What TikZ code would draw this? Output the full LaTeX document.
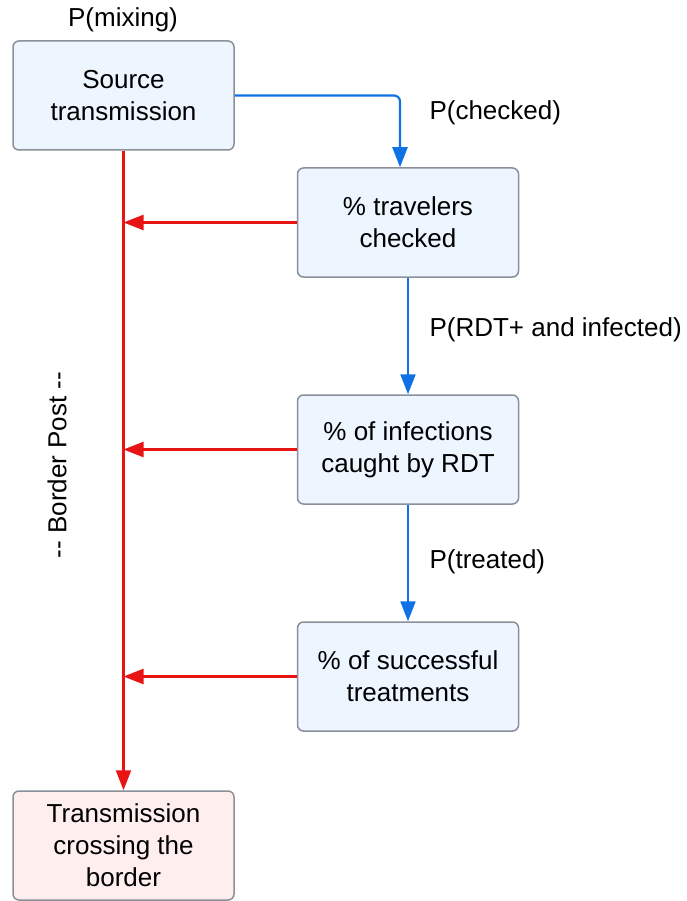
\documentclass[tikz,border=0pt]{standalone}
\usepackage{fontspec}
\setmainfont{Liberation Sans}
\usetikzlibrary{arrows.meta}
\definecolor{flowBlue}{HTML}{1071E5}
\definecolor{flowRed}{HTML}{E81313}
\definecolor{boxFill}{HTML}{EDF5FF}
\definecolor{endFill}{HTML}{FFEEEE}
\definecolor{boxLine}{HTML}{8A9099}

\begin{document}
\begin{tikzpicture}[x=1pt, y=-1pt,
  stagebox/.style={draw=boxLine, line width=1.5pt, rounded corners=6pt, fill=boxFill,
    minimum width=221pt, minimum height=109pt, align=center,
    font=\fontsize{26}{32}\selectfont},
  probtext/.style={font=\fontsize{26}{30}\selectfont, anchor=west},
  passflow/.style={flowBlue, line width=2.2pt, -{Triangle[length=20pt, width=15pt]}},
  leakflow/.style={flowRed, line width=2.2pt, -{Triangle[length=20pt, width=15pt]}}]
  % Frame
  \useasboundingbox (0,0) rectangle (687,901);

  % Stages
  \node[stagebox] (src) at (123.5,95.5) {Source\\transmission};
  \node[stagebox] (chk) at (408,222.5) {\% travelers\\checked};
  \node[stagebox] (rdt) at (408,449.5) {\% of infections\\caught by RDT};
  \node[stagebox] (trt) at (408,676.5) {\% of successful\\treatments};
  \node[stagebox, fill=endFill] (cross) at (123.5,845.5) {Transmission\\crossing the\\border};

  % Probabilities
  \node[font=\fontsize{26}{30}\selectfont] (pmix) at (123,20) {P(mixing)};
  \node[probtext] (pchk) at (426,113) {P(checked)};
  \node[probtext] (prdt) at (426,330) {P(RDT+ and infected)};
  \node[probtext] (ptrt) at (426,562) {P(treated)};
  \node[font=\fontsize{26}{30}\selectfont, rotate=90] (post) at (57,465) {-{}- Border Post -{}-};

  % Checked path
  \draw[passflow, rounded corners=6pt] (src.east) -| ([xshift=-8pt]chk.north);
  \draw[passflow] (chk.south) -- (rdt.north);
  \draw[passflow] (rdt.south) -- (trt.north);

  % Leaks across the border
  \draw[leakflow] (src.south) -- (cross.north);
  \draw[leakflow] (chk.west) -- (chk.west -| src.south);
  \draw[leakflow] (rdt.west) -- (rdt.west -| src.south);
  \draw[leakflow] (trt.west) -- (trt.west -| src.south);
\end{tikzpicture}
\end{document}
